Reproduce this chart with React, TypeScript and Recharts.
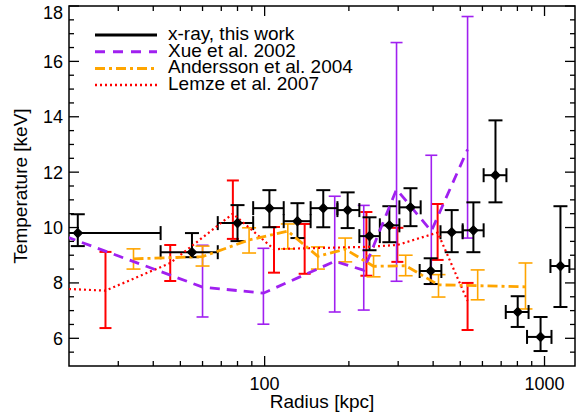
import React from "react";
import { ScatterChart, Scatter, XAxis, YAxis, ErrorBar, ReferenceArea } from "recharts";

// x-ray, this work (radius in kpc, temperature in keV)
const xrayR = [21.5, 55, 80, 104, 131, 162, 198, 237, 279, 332, 392, 466, 557, 668, 802, 968, 1140];
const xrayRLo = [10, 42.5, 68, 91, 117, 146, 182, 218, 258, 303, 358, 425, 510, 606, 727, 866, 1050];
const xrayRHi = [42.5, 68, 91, 117, 146, 182, 218, 258, 303, 361, 428, 510, 606, 731, 877, 1059, 1227];
const xrayT = [9.8, 9.11, 10.16, 10.7, 10.23, 10.7, 10.63, 9.69, 10.08, 10.73, 8.43, 9.83, 9.9, 11.89, 6.95, 6.05, 8.61];
const xrayTLo = [9.33, 8.93, 9.51, 10.01, 9.62, 10.01, 9.98, 9.18, 9.47, 10.05, 7.96, 9.11, 9.11, 10.91, 6.41, 5.54, 7.13];
const xrayTHi = [10.48, 9.8, 10.81, 11.35, 10.88, 11.35, 11.27, 10.37, 10.77, 11.42, 8.89, 10.63, 10.91, 13.87, 7.52, 6.77, 10.77];

// Xue et al. 2002 (first point lies left of the plotted range)
const xueR = [15, 60, 99, 178, 226, 296, 394, 531];
const xueT = [10.1, 7.85, 7.63, 8.78, 8.46, 11.38, 9.87, 12.82];
const xueTLo = [10.1, 6.77, 6.51, 6.95, 7.02, 8.06, 7.95, 9.62];
const xueTHi = [10.1, 9.36, 9.25, 11.13, 10.8, 16.68, 12.61, 17.62];

// Andersson et al. 2004
const andR = [34, 60, 88, 121, 155, 194, 245, 319, 418, 577, 855];
const andT = [8.87, 8.95, 9.55, 9.87, 8.96, 9.22, 8.6, 8.62, 7.93, 7.9, 7.86];
const andTLo = [8.5, 8.61, 9.08, 9.23, 8.5, 8.76, 8.22, 8.26, 7.49, 7.39, 7.06];
const andTHi = [9.23, 9.33, 9.99, 10.13, 9.3, 9.62, 8.98, 9.0, 8.3, 8.47, 8.72];

// Lemze et al. 2007 (first point lies left of the plotted range)
const lemR = [15, 27, 46, 77, 108, 139, 231, 298, 415, 531];
const lemT = [7.84, 7.72, 8.72, 10.5, 9.22, 9.25, 9.3, 9.37, 9.82, 7.35];
const lemTLo = [7.84, 6.37, 8.07, 9.59, 8.37, 8.33, 8.26, 8.76, 8.83, 6.3];
const lemTHi = [7.84, 9.12, 9.37, 11.7, 10.02, 10.13, 10.56, 9.99, 10.85, 8.0];

const legendLabels = ["x-ray, this work", "Xue et al. 2002", "Andersson et al. 2004", "Lemze et al. 2007"];

const xTicks = [30, 40, 50, 60, 70, 80, 90, 100, 200, 300, 400, 500, 600, 700, 800, 900, 1000];
const xLabels = [100, 1000];
const yTicks = [5.5, 6, 6.5, 7, 7.5, 8, 8.5, 9, 9.5, 10, 10.5, 11, 11.5, 12, 12.5, 13, 13.5, 14, 14.5, 15, 15.5, 16, 16.5, 17, 17.5, 18];
const yLabels = [6, 8, 10, 12, 14, 16, 18];

const W = 576;
const H = 416;
const M = { top: 6, right: 1, bottom: 0, left: 0 };
const Y_AXIS_W = 69;
const X_AXIS_H = 50;
const PLOT_TOP = M.top;
const PLOT_RIGHT = W - M.right;
const FONT = "'Liberation Sans', Arial, Helvetica, sans-serif";

const PURPLE = "#a020f0";
const ORANGE = "#ffa500";
const RED = "#ff0000";

const legendStyles = [
  { stroke: "#000", dash: undefined, width: 3 },
  { stroke: PURPLE, dash: "10 8", width: 3 },
  { stroke: ORANGE, dash: "10 4 3 4", width: 3 },
  { stroke: RED, dash: "2 3", width: 2.5 },
];

const xrayRows = xrayR.map((r, i) => ({
  r,
  T: xrayT[i],
  ex: [r - xrayRLo[i], xrayRHi[i] - r],
  ey: [xrayT[i] - xrayTLo[i], xrayTHi[i] - xrayT[i]],
}));

// points without an error range get no error bar
const toRows = (R: number[], T: number[], lo: number[], hi: number[]) =>
  R.map((r, i) => ({
    r,
    T: T[i],
    ey: hi[i] > lo[i] ? [T[i] - lo[i], hi[i] - T[i]] : undefined,
  }));

const xueRows = toRows(xueR, xueT, xueTLo, xueTHi);
const andRows = toRows(andR, andT, andTLo, andTHi);
const lemRows = toRows(lemR, lemT, lemTLo, lemTHi);

function XTick(props: any) {
  const { x, y, payload } = props;
  const major = xLabels.includes(payload.value);
  const len = major ? 10 : 5;
  return (
    <g>
      <line x1={x} x2={x} y1={y} y2={y - len} stroke="#000" strokeWidth={1.3} />
      <line x1={x} x2={x} y1={PLOT_TOP} y2={PLOT_TOP + len} stroke="#000" strokeWidth={1.3} />
      {major && (
        <text x={x} y={y + 24} textAnchor="middle" fontSize={18} fill="#000" fontFamily={FONT}>
          {payload.value}
        </text>
      )}
    </g>
  );
}

function YTick(props: any) {
  const { x, y, payload } = props;
  const major = yLabels.includes(payload.value);
  const len = major ? 10 : 5;
  // top label is nudged down so it stays inside the figure
  const ty = Math.max(y + 6.5, PLOT_TOP + 13);
  return (
    <g>
      <line x1={x} x2={x + len} y1={y} y2={y} stroke="#000" strokeWidth={1.3} />
      <line x1={PLOT_RIGHT} x2={PLOT_RIGHT - len} y1={y} y2={y} stroke="#000" strokeWidth={1.3} />
      {major && (
        <text x={x - 6} y={ty} textAnchor="end" fontSize={18} fill="#000" fontFamily={FONT}>
          {payload.value}
        </text>
      )}
    </g>
  );
}

function Diamond(props: any) {
  const { cx, cy } = props;
  const s = 4.5;
  return (
    <polygon
      points={`${cx},${cy - s} ${cx + s},${cy} ${cx},${cy + s} ${cx - s},${cy}`}
      fill="#000"
      stroke="#000"
      strokeWidth={1.2}
    />
  );
}

const NoShape = () => <g />;

function YTitle(props: any) {
  const vb = props.viewBox;
  return (
    <text
      transform={`translate(${vb.x + 27}, ${vb.y + vb.height / 2}) rotate(-90)`}
      textAnchor="middle"
      fontSize={19}
      fill="#000"
      fontFamily={FONT}
    >
      Temperature [keV]
    </text>
  );
}

function LegendBox() {
  return (
    <svg width={W} height={H} style={{ position: "absolute", left: 0, top: 0, pointerEvents: "none" }}>
      {legendLabels.map((label, i) => {
        const y = 35 + i * 16.7;
        const st = legendStyles[i];
        return (
          <g key={label}>
            <line x1={95} x2={157} y1={y} y2={y} stroke={st.stroke} strokeWidth={st.width} strokeDasharray={st.dash} />
            <text x={168} y={y + 5} fontSize={19} fill="#000" fontFamily={FONT}>
              {label}
            </text>
          </g>
        );
      })}
    </svg>
  );
}

const clipCss = `
.recharts-errorBar, .recharts-scatter-line, .recharts-scatter-symbol, .clip-series {
  clip-path: url(#plotClip);
}`;

export default function App() {
  return (
    <div style={{ position: "absolute", left: 0, top: 0, width: W, height: H, background: "#fff", fontFamily: FONT }}>
      <style>{clipCss}</style>
      <ScatterChart width={W} height={H} margin={M}>
        <defs>
          <clipPath id="plotClip" clipPathUnits="userSpaceOnUse">
            <rect x={Y_AXIS_W} y={PLOT_TOP} width={PLOT_RIGHT - Y_AXIS_W} height={H - X_AXIS_H - PLOT_TOP} />
          </clipPath>
        </defs>
        <XAxis
          dataKey="r"
          type="number"
          scale="log"
          domain={[20, 1285]}
          allowDataOverflow
          ticks={xTicks}
          interval={0}
          tick={<XTick />}
          tickSize={0}
          tickMargin={0}
          tickLine={false}
          axisLine={false}
          height={X_AXIS_H}
          label={{ value: "Radius [kpc]", position: "insideBottom", offset: 8, fontSize: 19, fill: "#000" }}
        />
        <YAxis
          dataKey="T"
          type="number"
          domain={[5, 18]}
          allowDataOverflow
          ticks={yTicks}
          interval={0}
          tick={<YTick />}
          tickSize={0}
          tickMargin={0}
          tickLine={false}
          axisLine={false}
          width={Y_AXIS_W}
          label={{ content: <YTitle /> }}
        />
        <Scatter
          className="clip-series"
          data={lemRows}
          line={{ stroke: RED, strokeWidth: 2.2, strokeDasharray: "2 3" }}
          lineType="joint"
          shape={NoShape}
          isAnimationActive={false}
        >
          <ErrorBar dataKey="ey" direction="y" width={6} stroke={RED} strokeWidth={2} isAnimationActive={false} />
        </Scatter>
        <Scatter
          className="clip-series"
          data={xueRows}
          line={{ stroke: PURPLE, strokeWidth: 2.8, strokeDasharray: "10 7" }}
          lineType="joint"
          shape={NoShape}
          isAnimationActive={false}
        >
          <ErrorBar dataKey="ey" direction="y" width={6} stroke={PURPLE} strokeWidth={1.6} isAnimationActive={false} />
        </Scatter>
        <Scatter
          className="clip-series"
          data={andRows}
          line={{ stroke: ORANGE, strokeWidth: 2.8, strokeDasharray: "10 4 3 4" }}
          lineType="joint"
          shape={NoShape}
          isAnimationActive={false}
        >
          <ErrorBar dataKey="ey" direction="y" width={7} stroke={ORANGE} strokeWidth={1.6} isAnimationActive={false} />
        </Scatter>
        <Scatter className="clip-series" data={xrayRows} shape={<Diamond />} isAnimationActive={false}>
          <ErrorBar dataKey="ex" direction="x" width={7} stroke="#000" strokeWidth={2} isAnimationActive={false} />
          <ErrorBar dataKey="ey" direction="y" width={7} stroke="#000" strokeWidth={2} isAnimationActive={false} />
        </Scatter>
        <ReferenceArea x1={20} x2={1285} y1={5} y2={18} fill="none" stroke="#000" strokeWidth={1.5} ifOverflow="visible" />
      </ScatterChart>
      <LegendBox />
    </div>
  );
}
